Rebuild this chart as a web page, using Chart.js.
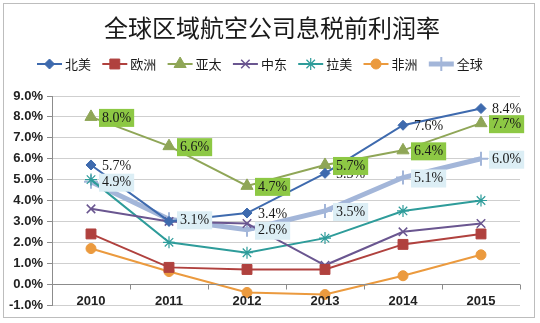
<!DOCTYPE html>
<html>
<head>
<meta charset="utf-8">
<script src="https://cdn.jsdelivr.net/npm/chart.js@4.4.0/dist/chart.umd.min.js"></script>
<style>
  html, body { margin: 0; padding: 0; background: #fff; }
  #wrap { width: 540px; height: 323px; position: relative; }
</style>
</head>
<body>
<div id="wrap"><canvas id="c" width="540" height="323"></canvas></div>
<script>
// EBIT margin by region, in percent
const years = ['2010', '2011', '2012', '2013', '2014', '2015'];
const northAmerica = [5.7, 3.0, 3.4, 5.3, 7.6, 8.4];
const europe       = [2.4, 0.8, 0.7, 0.7, 1.9, 2.4];
const asiaPacific  = [8.0, 6.6, 4.7, 5.7, 6.4, 7.7];
const middleEast   = [3.6, 3.0, 2.9, 0.9, 2.5, 2.9];
const latinAmerica = [5.0, 2.0, 1.5, 2.2, 3.5, 4.0];
const africa       = [1.7, 0.6, -0.4, -0.5, 0.4, 1.4];
const world        = [4.9, 3.1, 2.6, 3.5, 5.1, 6.0];
const seriesNames  = ['北美', '欧洲', '亚太', '中东', '拉美', '非洲', '全球'];
const yMin = -1, yMax = 9, yStep = 1;
const titleText = '全球区域航空公司息税前利润率';

const CJK = '"Noto Sans CJK SC", "Noto Sans", sans-serif';

function series(label, data, color, style, radius, extra) {
  return Object.assign({
    label, data,
    borderColor: color,
    backgroundColor: color,
    borderWidth: 2,
    pointStyle: style,
    pointRadius: radius,
    pointHoverRadius: radius,
    pointBorderWidth: 1,
    pointBackgroundColor: color,
    pointBorderColor: color,
    tension: 0
  }, extra || {});
}

const datasets = [
  series(seriesNames[0], northAmerica, '#3E6AAE', 'rectRot', 5, { valueLabel: { box: null } }),
  series(seriesNames[1], europe, '#B0413E', 'rect', 7),
  series(seriesNames[2], asiaPacific, '#8FA657', 'triangle', 7, { valueLabel: { box: '#8DC844' } }),
  series(seriesNames[3], middleEast, '#6A5690', 'crossRot', 6, { pointBorderWidth: 1.5 }),
  series(seriesNames[4], latinAmerica, '#2E9C9A', 'star', 6, { pointBorderWidth: 1.2 }),
  series(seriesNames[5], africa, '#EB9A3E', 'circle', 5),
  series(seriesNames[6], world, '#A3B6D9', 'cross', 7, { borderWidth: 5, pointBorderWidth: 2, valueLabel: { box: '#DCEEF5' } })
];

// frame, title, legend, zero axis, category labels, value labels
const decor = {
  id: 'decor',
  beforeDraw(chart) {
    const ctx = chart.ctx;
    ctx.save();
    ctx.fillStyle = '#fff';
    ctx.fillRect(0, 0, chart.width, chart.height);
    ctx.strokeStyle = '#BDBDBD';
    ctx.lineWidth = 1;
    ctx.strokeRect(3.5, 3.5, 531, 314);
    ctx.restore();
  },
  afterDatasetsDraw(chart) {
    const ctx = chart.ctx;
    const yScale = chart.scales.y;
    const xScale = chart.scales.x;
    const area = chart.chartArea;
    ctx.save();

    // value labels
    ctx.font = '14px "Liberation Serif", "DejaVu Serif", serif';
    ctx.textBaseline = 'middle';
    ctx.textAlign = 'left';
    chart.data.datasets.forEach((ds, i) => {
      if (!ds.valueLabel) return;
      const meta = chart.getDatasetMeta(i);
      meta.data.forEach((pt, j) => {
        const text = ds.data[j].toFixed(1) + '%';
        const w = ctx.measureText(text).width;
        const x = pt.x + 11;
        const y = pt.y + 1;
        if (ds.valueLabel.box) {
          ctx.fillStyle = ds.valueLabel.box;
          ctx.fillRect(x - 3, y - 9, w + 6, 18);
        }
        ctx.fillStyle = '#1a1a1a';
        ctx.fillText(text, x, y);
      });
    });
    ctx.restore();
  },
  afterDraw(chart) {
    const ctx = chart.ctx;
    const yScale = chart.scales.y;
    const xScale = chart.scales.x;
    const area = chart.chartArea;
    ctx.save();

    // zero line with category boundary ticks
    const y0 = Math.round(yScale.getPixelForValue(0)) + 0.5;
    ctx.strokeStyle = '#8C8C8C';
    ctx.lineWidth = 1;
    ctx.beginPath();
    ctx.moveTo(area.left, y0);
    ctx.lineTo(area.right, y0);
    const n = years.length;
    const step = (area.right - area.left) / n;
    for (let k = 0; k <= n; k++) {
      const x = Math.round(area.left + k * step) + 0.5;
      ctx.moveTo(x, y0);
      ctx.lineTo(x, y0 + 5);
    }
    ctx.stroke();

    // category labels under the zero line
    ctx.fillStyle = '#222';
    ctx.font = 'bold 13px "Liberation Sans", Arial, sans-serif';
    ctx.textAlign = 'center';
    ctx.textBaseline = 'middle';
    years.forEach((yr, k) => {
      ctx.fillText(yr, xScale.getPixelForValue(k), y0 + 17);
    });

    // title
    ctx.font = '24px ' + CJK;
    ctx.fillStyle = '#1a1a1a';
    ctx.textAlign = 'center';
    ctx.textBaseline = 'middle';
    ctx.fillText(titleText, 272, 28);

    // legend: line with marker, then name
    const legendY = 64;
    const startX = 37, gap = 65.3, lineLen = 25;
    ctx.font = '13px ' + CJK;
    ctx.textAlign = 'left';
    chart.data.datasets.forEach((ds, i) => {
      const lx = startX + i * gap;
      ctx.strokeStyle = ds.borderColor;
      ctx.lineWidth = ds.borderWidth;
      ctx.beginPath();
      ctx.moveTo(lx, legendY);
      ctx.lineTo(lx + lineLen, legendY);
      ctx.stroke();
      ctx.fillStyle = ds.pointBackgroundColor;
      ctx.strokeStyle = ds.pointBorderColor;
      ctx.lineWidth = ds.pointBorderWidth;
      Chart.helpers.drawPoint(ctx, {
        pointStyle: ds.pointStyle,
        radius: ds.pointRadius,
        rotation: 0,
        borderWidth: ds.pointBorderWidth
      }, lx + lineLen / 2, legendY);
      ctx.fillStyle = '#1a1a1a';
      ctx.fillText(ds.label, lx + lineLen + 3, legendY);
    });
    ctx.restore();
  }
};

new Chart(document.getElementById('c'), {
  type: 'line',
  data: { labels: years, datasets },
  options: {
    responsive: false,
    animation: false,
    events: [],
    layout: { padding: { top: 96, right: 20, bottom: 18, left: 0 } },
    plugins: {
      legend: { display: false },
      title: { display: false },
      tooltip: { enabled: false }
    },
    scales: {
      x: { display: false, offset: true },
      y: {
        min: yMin, max: yMax,
        afterFit(scale) { scale.width = 52; },
        ticks: {
          stepSize: yStep,
          color: '#222',
          padding: 4,
          font: { family: '"Liberation Sans", Arial, sans-serif', size: 13, weight: 'bold' },
          callback: v => v.toFixed(1) + '%'
        },
        grid: { color: '#CFCFCF', tickLength: 5, tickColor: '#8C8C8C' },
        border: { color: '#8C8C8C' }
      }
    }
  },
  plugins: [decor]
});
</script>
</body>
</html>
